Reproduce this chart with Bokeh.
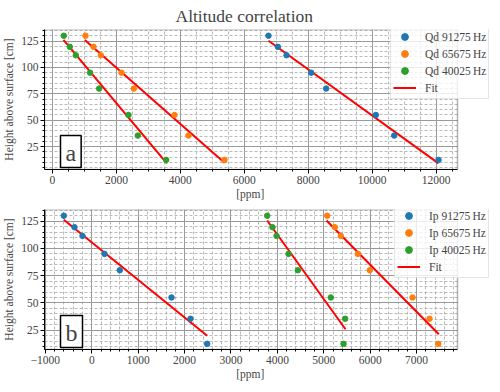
from bokeh.plotting import figure
from bokeh.layouts import column
from bokeh.models import (Range1d, SingleIntervalTicker, Legend, LegendItem,
                          Label, BoxAnnotation)
from bokeh.embed import file_html
from bokeh.resources import INLINE

# ---------------- data ----------------
heights = [130, 119.5, 111.5, 95, 80, 55, 35.5, 12.5]

qd_91275 = [6758, 7050, 7322, 8094, 8563, 10116, 10691, 12078]
qd_65675 = [1032, 1283, 1512, 2159, 2545, 3817, 4255, 5382]
qd_40025 = [354, 542, 730, 1178, 1460, 2378, 2670, 3557]
qd_fit_x = [[6758, 12078], [1012, 5382], [344, 3577]]
qd_fit_y = [[125.3, 9.2], [126.0, 9.8], [126.0, 9.2]]

ip_91275 = [-603, -373, -200, 274, 603, 1718, 2127, 2487]
ip_65675 = [5073, 5237, 5366, 5733, 5991, 6912, 7278, 7466]
ip_40025 = [3780, 3894, 3981, 4239, 4440, 5151, 5461, 5425]
ip_fit_x = [[-603, 2487], [5058, 7478], [3780, 5468]]
ip_fit_y = [[126.3, 19.9], [125.6, 21.3], [125.6, 25.9]]

freq_labels = ["91275\u2009Hz", "65675\u2009Hz", "40025\u2009Hz"]
colors = ["#1f77b4", "#ff7f0e", "#2ca02c"]
FONT = "Liberation Serif"
# x label; trailing no-break spaces re-centre it under the visible axes,
# because the frame is extended to the right so that the legend can overhang
XLABEL = "[ppm]" + "\u00a0" * 12

LEFT = 38          # left border (px)
AX_W = 413         # visible axes width (px)
FRAME_W = 446      # frame extended to the right edge so the legend may overhang
FRAME_H = 140


def make_fig(xlo, xhi, ylo, yhi, **kw):
    xend = xlo + (xhi - xlo) * FRAME_W / AX_W
    p = figure(frame_width=FRAME_W, frame_height=FRAME_H, output_backend="svg",
               toolbar_location=None, x_range=Range1d(xlo, xend),
               y_range=Range1d(ylo, yhi), min_border_left=LEFT,
               min_border_right=0, **kw)
    p.xaxis.bounds = (xlo, xhi)
    p.outline_line_color = None
    # blank out the part of the frame right of the axes
    p.add_layout(BoxAnnotation(left=xhi, right=xend * 2, bottom=ylo - 1000,
                               top=yhi + 1000, fill_color="white", fill_alpha=1,
                               line_color=None, level="glyph"))
    # axes border
    p.add_layout(BoxAnnotation(left=xlo, right=xhi, bottom=ylo, top=yhi,
                               fill_alpha=0, fill_color=None, line_color="black",
                               line_width=1.5, level="annotation"))
    return p


def style(p, xstep, xminor):
    p.xaxis.ticker = SingleIntervalTicker(interval=xstep, num_minor_ticks=xminor)
    p.yaxis.ticker = SingleIntervalTicker(interval=25, num_minor_ticks=5)
    for ax in (p.xaxis[0], p.yaxis[0]):
        ax.major_label_text_font = FONT
        ax.major_label_text_font_size = "11.5px"
        ax.axis_label_text_font = FONT
        ax.axis_label_text_font_size = "11.5px"
        ax.axis_label_text_font_style = "normal"
        ax.major_tick_in = 0
        ax.major_tick_out = 4
        ax.minor_tick_in = 0
        ax.minor_tick_out = 2
        ax.axis_line_color = "black"
        ax.major_tick_line_color = "black"
        ax.minor_tick_line_color = "black"
        ax.major_label_standoff = 2
    p.xaxis.axis_label_standoff = 1
    p.yaxis.axis_label_standoff = 3
    for g in (p.xgrid[0], p.ygrid[0]):
        g.grid_line_color = "#9a9a9a"
        g.grid_line_width = 1
        g.minor_grid_line_color = "#a8a8a8"
        g.minor_grid_line_dash = "3 2"
        g.minor_grid_line_width = 0.8
    p.background_fill_color = "white"


def make_legend(p, renderers, labels, loc):
    items = [LegendItem(label=l, renderers=[r]) for l, r in zip(labels, renderers)]
    lg = Legend(items=items, location=loc)
    lg.label_text_font = FONT
    lg.label_text_font_size = "11.5px"
    lg.label_height = 17
    lg.glyph_height = 17
    lg.glyph_width = 23
    lg.label_standoff = 9
    lg.spacing = 0
    lg.padding = 2
    lg.margin = 0
    lg.border_line_color = "#cccccc"
    lg.border_line_width = 1
    lg.background_fill_alpha = 0.8
    p.add_layout(lg)


def box_label(p, txt):
    lab = Label(x=16, y=2, x_units="screen", y_units="screen", text=txt,
                text_font=FONT, text_font_size="24px", anchor="bottom_left",
                padding=dict(left=5, right=5, top=4, bottom=2),
                border_line_color="black", border_line_width=1.5,
                background_fill_color="white")
    p.add_layout(lab)


# ---------------- top panel ----------------
p1 = make_fig(-250, 12672, 3.4, 135.9, title="Altitude correlation",
              min_border_top=0, min_border_bottom=0)
p1.title.text_font = FONT
p1.title.text_font_size = "17.5px"
p1.title.text_font_style = "normal"
p1.title.align = "left"
p1.title.offset = 131
p1.title.standoff = 7
style(p1, 2000, 4)
p1.xaxis.axis_label = XLABEL
p1.yaxis.axis_label = "Height above surface [cm]"

fit1 = p1.multi_line(qd_fit_x, qd_fit_y, line_color="red", line_width=2)
r1 = []
for xs, c in zip([qd_91275, qd_65675, qd_40025], colors):
    r1.append(p1.scatter(xs, heights, size=5.5, color=c))
make_legend(p1, r1 + [fit1], ["Qd " + f for f in freq_labels] + ["Fit"], (346, 70))
box_label(p1, "a")

# ---------------- bottom panel ----------------
p2 = make_fig(-1019, 7881, 7.3, 135.7, min_border_top=7, min_border_bottom=0)
style(p2, 1000, 5)
p2.xaxis.axis_label = XLABEL
p2.yaxis.axis_label = "Height above surface [cm]"

fit2 = p2.multi_line(ip_fit_x, ip_fit_y, line_color="red", line_width=2)
r2 = []
for xs, c in zip([ip_91275, ip_65675, ip_40025], colors):
    r2.append(p2.scatter(xs, heights, size=5.5, color=c))
make_legend(p2, r2 + [fit2], ["Ip " + f for f in freq_labels] + ["Fit"], (350, 71))
box_label(p2, "b")

layout = column(p1, p2, spacing=0)
open("out.html", "w").write(file_html(layout, INLINE))
